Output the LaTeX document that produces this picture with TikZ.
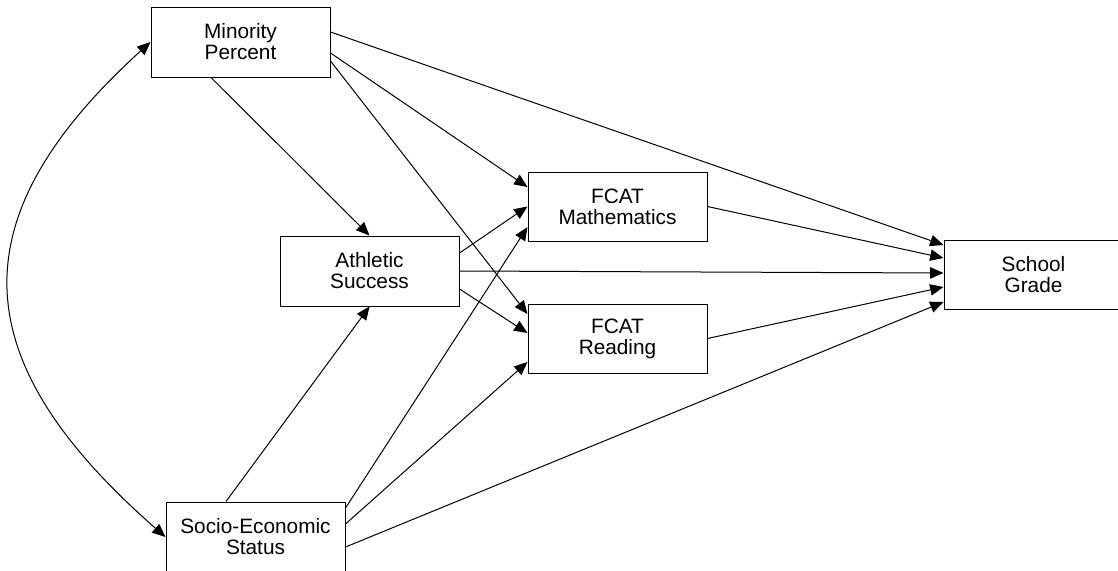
\documentclass[tikz,border=0pt]{standalone}
\usepackage{fontspec}
\setmainfont{Liberation Sans}
\usetikzlibrary{arrows.meta,calc}
\begin{document}
\begin{tikzpicture}[x=0.75pt,y=-0.75pt,
  varbox/.style={draw=black,line width=0.75pt,rectangle,inner sep=0pt,
    minimum width=134.25pt,minimum height=52.5pt,align=center,
    font=\fontsize{15.6}{15.8}\selectfont},
  path/.style={draw=black,line width=0.75pt,-{Triangle[length=10pt,width=8.5pt]}},
  cov/.style={draw=black,line width=0.75pt,{Triangle[length=10pt,width=8.5pt]}-{Triangle[length=10pt,width=8.5pt]}}]
\useasboundingbox (0,0) rectangle (1118,571);
\node[varbox] (MP) at (240.5,42) {Minority\\Percent};
\node[varbox] (AS) at (369.5,271) {Athletic\\Success};
\node[varbox,minimum height=51.75pt] (FM) at (617.5,206.5) {FCAT\\Mathematics};
\node[varbox,minimum height=51.75pt] (FR) at (617.5,338.5) {FCAT\\Reading};
\node[varbox,minimum height=51.75pt] (SG) at (1033.5,274.5) {School\\Grade};
\node[varbox] (SES) at (255.5,537) {Socio-Economic\\Status};
% Minority Percent
\draw[path] ($(MP.east)+(0,-10)$) -- ($(SG.west)+(0,-29.5)$);
\draw[path] ($(MP.east)+(0,11)$) -- ($(FM.west)+(0,-19.5)$);
\draw[path] ($(MP.east)+(0,19)$) -- ($(FR.west)+(0,-24.5)$);
\draw[path] ($(MP.south)+(-29.5,0)$) -- (AS.north);
% Athletic Success
\draw[path] ($(AS.east)+(0,-18)$) -- (FM.west);
\draw[path] (AS.east) -- ($(SG.west)+(0,-1.5)$);
\draw[path] ($(AS.east)+(0,18)$) -- ($(FR.west)+(0,-5.5)$);
% FCAT
\draw[path] (FM.east) -- ($(SG.west)+(0,-16.5)$);
\draw[path] (FR.east) -- ($(SG.west)+(0,12.5)$);
% SES
\draw[path] ($(SES.north)+(-29.5,0)$) -- (AS.south);
\draw[path] ($(SES.east)+(0,-29)$) -- ($(FM.west)+(0,20.5)$);
\draw[path] ($(SES.east)+(0,-13)$) -- ($(FR.west)+(0,23.5)$);
\draw[path] ($(SES.east)+(0,10)$) -- ($(SG.west)+(0,27.5)$);
% covariance
\draw[cov] (SES.west) .. controls ($(SES.west)+(-200,-175)$) and ($(MP.west)+(-196,178)$) .. (MP.west);
\end{tikzpicture}
\end{document}
